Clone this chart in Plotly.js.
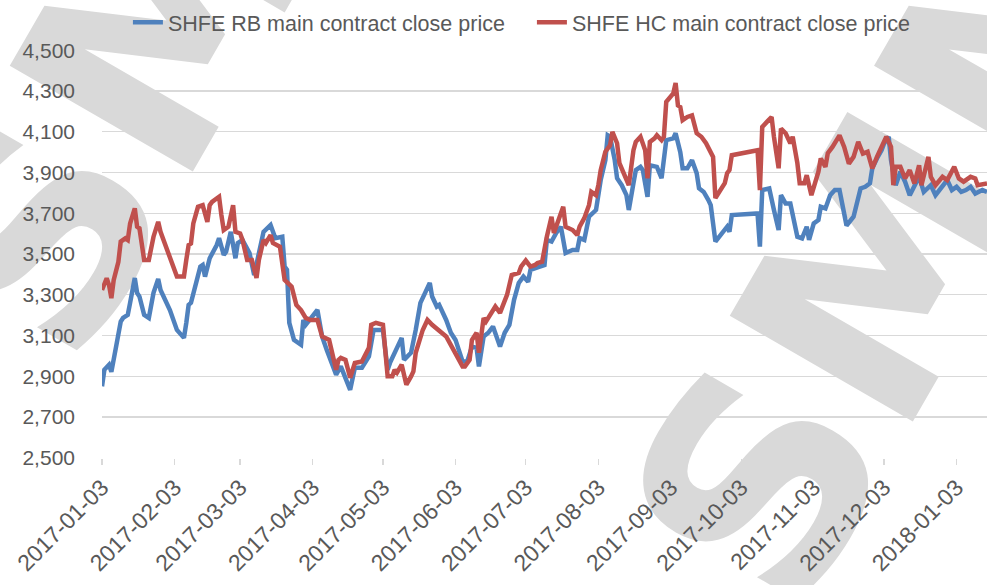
<!DOCTYPE html>
<html>
<head>
<meta charset="utf-8">
<script src="https://cdn.plot.ly/plotly-3.0.1.min.js"></script>
<style>
  html, body { margin: 0; padding: 0; background: #ffffff; }
  #wrap { position: relative; width: 987px; height: 585px; overflow: hidden; }
  .wm { position: absolute; font-family: "DejaVu Sans", sans-serif; font-weight: bold;
        font-size: 290px; line-height: 1; color: #d9d9d9; white-space: nowrap;
        transform: translate(-50%, -50%) rotate(-60deg); z-index: 0; }
  #chart { position: absolute; left: 0; top: 0; width: 987px; height: 585px; z-index: 1; }
</style>
</head>
<body>
<div id="wrap">
  <div class="wm" style="left:185px; top:-15px;">SMM</div>
  <div class="wm" style="left:905px; top:235px;">SMM</div>
  <div id="chart"></div>
</div>
<script>
const seriesNames = ['SHFE RB main contract close price', 'SHFE HC main contract close price'];

const tickDates = ['2017-01-03','2017-02-03','2017-03-03','2017-04-03','2017-05-03','2017-06-03','2017-07-03',
  '2017-08-03','2017-09-03','2017-10-03','2017-11-03','2017-12-03','2018-01-03'];

const rbDates = [
'2017-01-03','2017-01-04','2017-01-06','2017-01-07','2017-01-09','2017-01-11','2017-01-12','2017-01-14','2017-01-15','2017-01-17','2017-01-18','2017-01-19','2017-01-21','2017-01-23','2017-01-25','2017-01-27','2017-01-28',
'2017-02-01','2017-02-04','2017-02-07','2017-02-08','2017-02-09','2017-02-10','2017-02-12','2017-02-14','2017-02-15','2017-02-16','2017-02-18','2017-02-21','2017-02-22','2017-02-24','2017-02-25','2017-02-27',
'2017-03-01','2017-03-02','2017-03-04','2017-03-07','2017-03-09','2017-03-13','2017-03-16','2017-03-18','2017-03-21','2017-03-22','2017-03-23','2017-03-24','2017-03-26','2017-03-29','2017-03-30','2017-03-31',
'2017-04-05','2017-04-07','2017-04-09','2017-04-13','2017-04-15','2017-04-19','2017-04-21','2017-04-24','2017-04-27','2017-04-29',
'2017-05-03','2017-05-05','2017-05-06','2017-05-08','2017-05-11','2017-05-12','2017-05-15','2017-05-17','2017-05-19','2017-05-21','2017-05-23','2017-05-24','2017-05-26','2017-05-27','2017-05-30',
'2017-06-01','2017-06-03','2017-06-06','2017-06-08','2017-06-10','2017-06-12','2017-06-13','2017-06-15','2017-06-17','2017-06-19','2017-06-22','2017-06-24','2017-06-26','2017-06-28','2017-06-30',
'2017-07-02','2017-07-04','2017-07-05','2017-07-09','2017-07-11','2017-07-12','2017-07-14','2017-07-16','2017-07-18','2017-07-20','2017-07-23','2017-07-25','2017-07-26','2017-07-28','2017-07-30',
'2017-08-02','2017-08-03','2017-08-04','2017-08-06','2017-08-07','2017-08-08','2017-08-10','2017-08-11','2017-08-13','2017-08-15','2017-08-16','2017-08-18','2017-08-19','2017-08-21','2017-08-22','2017-08-24','2017-08-25','2017-08-28','2017-08-30',
'2017-09-01','2017-09-04','2017-09-05','2017-09-07','2017-09-08','2017-09-10','2017-09-12','2017-09-14','2017-09-15','2017-09-17','2017-09-19','2017-09-20','2017-09-22','2017-09-25','2017-09-27','2017-09-28','2017-09-29',
'2017-10-10','2017-10-11','2017-10-12','2017-10-15','2017-10-17','2017-10-19','2017-10-20','2017-10-22','2017-10-24','2017-10-26','2017-10-27','2017-10-29','2017-10-31',
'2017-11-01','2017-11-03','2017-11-05','2017-11-06','2017-11-08','2017-11-10','2017-11-12','2017-11-14','2017-11-17','2017-11-20','2017-11-23','2017-11-25','2017-11-27','2017-11-28','2017-11-30',
'2017-12-02','2017-12-03','2017-12-05','2017-12-06','2017-12-08','2017-12-10','2017-12-12','2017-12-14','2017-12-16','2017-12-18','2017-12-20','2017-12-22','2017-12-23','2017-12-25','2017-12-28','2017-12-30',
'2018-01-01','2018-01-03','2018-01-05','2018-01-07','2018-01-09','2018-01-11','2018-01-14','2018-01-16'
];
const rbValues = [
2850,2931,2956,2921,3044,3168,3186,3201,3260,3382,3309,3291,3201,3186,3309,3377,3323,
3225,3127,3088,3162,3250,3260,3358,3438,3446,3389,3479,3544,3578,3495,3511,3609,
3479,3554,3569,3505,3397,3609,3642,3578,3585,3438,3422,3162,3078,3054,3176,3152,
3225,3095,3029,2907,2948,2833,2941,2941,2997,3127,
3127,2931,2965,3015,3088,2980,3015,3127,3260,3309,3358,3291,3242,3250,3176,
3113,3078,2972,2972,3045,3039,2948,3095,3113,3144,3045,3113,3152,3275,3358,
3389,3364,3422,3438,3446,3569,3561,3603,3634,3505,3520,3520,3578,3569,3683,
3716,3781,3863,3961,4083,4076,3961,3872,3838,3789,3716,3848,3912,3928,3912,3781,3936,3928,3872,
4059,4068,4093,4000,3921,3921,3961,3897,3823,3805,3765,3740,3561,3603,3634,3609,3691,
3699,3536,3814,3822,3716,3618,3789,3748,3748,3650,3585,3577,3634,
3569,3650,3667,3732,3724,3789,3814,3814,3640,3683,3822,3830,3848,3921,3969,
4010,4042,4076,3961,3838,3904,3855,3789,3838,3879,3805,3830,3838,3789,3838,3863,
3814,3830,3805,3814,3830,3797,3814,3805
];

const hcDates = [
'2017-01-03','2017-01-05','2017-01-06','2017-01-07','2017-01-08','2017-01-10','2017-01-11','2017-01-13','2017-01-14','2017-01-15','2017-01-17','2017-01-18','2017-01-19','2017-01-21','2017-01-23','2017-01-25','2017-01-27','2017-01-28',
'2017-02-04','2017-02-07','2017-02-08','2017-02-09','2017-02-10','2017-02-11','2017-02-13','2017-02-15','2017-02-17','2017-02-18','2017-02-19','2017-02-22','2017-02-23','2017-02-24','2017-02-26','2017-02-28',
'2017-03-01','2017-03-03','2017-03-04','2017-03-06','2017-03-08','2017-03-10','2017-03-11','2017-03-13','2017-03-14','2017-03-16','2017-03-17','2017-03-20','2017-03-22','2017-03-25','2017-03-27','2017-03-29','2017-03-31',
'2017-04-02','2017-04-05','2017-04-07','2017-04-10','2017-04-13','2017-04-14','2017-04-15','2017-04-17','2017-04-19','2017-04-21','2017-04-24','2017-04-27','2017-04-28','2017-04-30',
'2017-05-03','2017-05-05','2017-05-07','2017-05-08','2017-05-09','2017-05-11','2017-05-13','2017-05-15','2017-05-16','2017-05-17','2017-05-20','2017-05-22','2017-05-24','2017-05-30',
'2017-06-03','2017-06-06','2017-06-07','2017-06-09','2017-06-10','2017-06-12','2017-06-13','2017-06-15','2017-06-16','2017-06-20','2017-06-22','2017-06-25','2017-06-27','2017-06-30',
'2017-07-01','2017-07-03','2017-07-05','2017-07-07','2017-07-08','2017-07-10','2017-07-12','2017-07-14','2017-07-15','2017-07-18','2017-07-19','2017-07-20','2017-07-23','2017-07-25','2017-07-26','2017-07-28','2017-07-30','2017-07-31',
'2017-08-02','2017-08-03','2017-08-04','2017-08-06','2017-08-08','2017-08-09','2017-08-11','2017-08-12','2017-08-14','2017-08-16','2017-08-18','2017-08-19','2017-08-21','2017-08-23','2017-08-24','2017-08-25','2017-08-27','2017-08-28','2017-08-30','2017-08-31',
'2017-09-01','2017-09-03','2017-09-04','2017-09-05','2017-09-06','2017-09-07','2017-09-08','2017-09-10','2017-09-12','2017-09-14','2017-09-16','2017-09-18','2017-09-20','2017-09-21','2017-09-22','2017-09-24','2017-09-26','2017-09-27','2017-09-28','2017-09-29',
'2017-10-10','2017-10-11','2017-10-12','2017-10-14','2017-10-16','2017-10-17','2017-10-18','2017-10-19','2017-10-20','2017-10-22','2017-10-24','2017-10-25','2017-10-27','2017-10-28','2017-10-30','2017-10-31',
'2017-11-02','2017-11-03','2017-11-05','2017-11-06','2017-11-08','2017-11-09','2017-11-11','2017-11-14','2017-11-16','2017-11-18','2017-11-20','2017-11-22','2017-11-24','2017-11-26','2017-11-28','2017-11-30',
'2017-12-02','2017-12-04','2017-12-06','2017-12-07','2017-12-08','2017-12-10','2017-12-12','2017-12-14','2017-12-16','2017-12-18','2017-12-19','2017-12-22','2017-12-23','2017-12-25','2017-12-28','2017-12-30',
'2018-01-02','2018-01-04','2018-01-06','2018-01-09','2018-01-11','2018-01-12','2018-01-16'
];
const hcValues = [
3323,3381,3348,3283,3373,3462,3561,3577,3569,3650,3724,3634,3626,3471,3471,3585,3658,3609,
3389,3389,3471,3544,3552,3650,3732,3740,3658,3740,3756,3781,3691,3618,3634,3740,
3609,3601,3569,3471,3471,3382,3471,3569,3554,3593,3554,3536,3373,3340,3250,3225,3186,
3176,3176,3095,3078,2931,2980,2990,2980,2892,2965,2972,3039,3152,3162,
3152,2899,2899,2931,2917,2956,2858,2899,2923,3015,3127,3176,3152,3095,
3015,2948,2948,2980,3078,3113,3015,3186,3168,3242,3211,3299,3397,3407,
3438,3468,3438,3446,3456,3462,3585,3683,3603,3701,3732,3634,3618,3593,3634,3676,3740,3805,
3789,3838,3912,4002,4034,4100,4044,3946,3897,3838,4010,4051,4076,4010,3872,4051,4068,4083,4059,4076,
4247,4272,4289,4340,4230,4222,4157,4173,4181,4093,4076,4044,3995,3977,3775,3814,3848,3897,3912,3985,
4010,3814,4124,4149,4173,4076,3977,3921,4116,4093,4044,4076,3946,3848,3848,3887,
3789,3830,3904,3969,3928,3995,4026,4083,4026,3944,3977,4051,3993,4002,3920,3977,
4026,4076,4026,3838,3928,3928,3871,3912,3846,3936,3838,3977,3879,3838,3879,3863,
3928,3871,3855,3879,3871,3838,3846
];

const textColor = '#595959';
const gridColor = '#d9d9d9';
const fontFamily = '"Liberation Sans", Arial, sans-serif';

const traces = [
  { x: rbDates, y: rbValues, name: seriesNames[0], type: 'scatter', mode: 'lines',
    line: { color: '#4f81bd', width: 4.5 } },
  { x: hcDates, y: hcValues, name: seriesNames[1], type: 'scatter', mode: 'lines',
    line: { color: '#c0504d', width: 4.5 } }
];

const layout = {
  width: 987, height: 585,
  margin: { l: 102, r: 0, t: 50, b: 127 },
  paper_bgcolor: 'rgba(0,0,0,0)',
  plot_bgcolor: 'rgba(0,0,0,0)',
  font: { family: fontFamily, size: 21.5, color: textColor },
  showlegend: true,
  legend: {
    orientation: 'h', xref: 'container', yref: 'container',
    x: 0.1296, xanchor: 'left', y: 0.962, yanchor: 'middle',
    font: { family: fontFamily, size: 21.5, color: textColor },
    bgcolor: 'rgba(0,0,0,0)', entrywidth: 359, entrywidthmode: 'pixels'
  },
  xaxis: {
    type: 'date',
    range: ['2017-01-03', '2018-01-16'],
    tickmode: 'array', tickvals: tickDates, ticktext: tickDates,
    tickangle: -45,
    ticks: 'outside', ticklen: 6, tickcolor: gridColor, tickwidth: 1.3,
    showgrid: false, showline: false, zeroline: false,
    tickfont: { family: fontFamily, size: 23, color: textColor }
  },
  yaxis: {
    range: [2498, 4502],
    tickvals: [2500,2700,2900,3100,3300,3500,3700,3900,4100,4300,4500],
    tickformat: ',d',
    showgrid: true, gridcolor: gridColor, gridwidth: 1.3,
    showline: false, zeroline: false, ticks: '',
    ticklabelstandoff: 26,
    tickfont: { family: fontFamily, size: 21, color: textColor }
  }
};

Plotly.newPlot('chart', traces, layout, { displayModeBar: false, staticPlot: true });
</script>
</body>
</html>
